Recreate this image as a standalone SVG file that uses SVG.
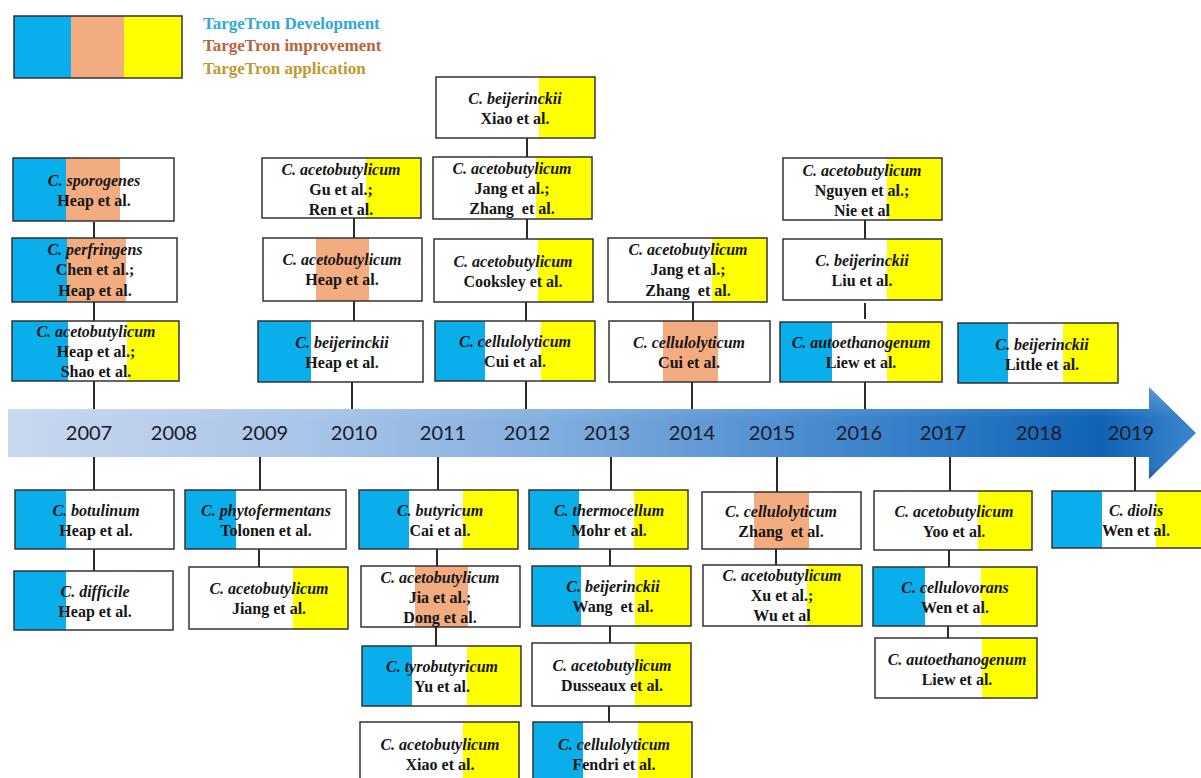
<svg xmlns="http://www.w3.org/2000/svg" width="1201" height="778" viewBox="0 0 1201 778">
<style>
.box{fill:none;stroke:#333;stroke-width:1.5}
.bg{fill:#fff}
.b{fill:#0AAEEB}
.p{fill:#F3AB80}
.y{fill:#FFFF00}
.sp{font-family:Liberation Serif,Tinos,DejaVu Serif,serif;font-size:16px;font-weight:bold;font-style:italic;fill:#151515;text-anchor:middle}
.au{font-family:Liberation Serif,Tinos,DejaVu Serif,serif;font-size:16px;font-weight:bold;fill:#151515;text-anchor:middle}
.yr{font-family:Lato,Open Sans,sans-serif;font-size:20px;fill:#1a1a28;text-anchor:middle}
.lg{font-family:Liberation Serif,Tinos,DejaVu Serif,serif;font-size:17px;font-weight:bold}
#connectors line{stroke:#2a2a2a;stroke-width:2}
</style>
<defs>
<linearGradient id="band" gradientUnits="userSpaceOnUse" x1="8" y1="0" x2="1196" y2="0">
<stop offset="0" stop-color="#C8D8EF"/>
<stop offset="0.25" stop-color="#A9C5E8"/>
<stop offset="0.45" stop-color="#84AFDF"/>
<stop offset="0.62" stop-color="#5894D3"/>
<stop offset="0.8" stop-color="#2A78C5"/>
<stop offset="0.92" stop-color="#0F62B5"/>
<stop offset="1" stop-color="#3D86CC"/>
</linearGradient>
<linearGradient id="shade" x1="0" y1="0" x2="0" y2="1">
<stop offset="0" stop-color="#fff" stop-opacity="0.25"/>
<stop offset="0.35" stop-color="#fff" stop-opacity="0"/>
<stop offset="0.85" stop-color="#000" stop-opacity="0"/>
<stop offset="1" stop-color="#000" stop-opacity="0.22"/>
</linearGradient>
</defs>
<rect width="1201" height="778" fill="#fff"/>

<g id="legend">
<rect x="14" y="16" width="57" height="62" class="b"/>
<rect x="71" y="16" width="53" height="62" class="p"/>
<rect x="124" y="16" width="58" height="62" class="y"/>
<rect x="14" y="16" width="168" height="62" class="box"/>
<text x="203" y="29" class="lg" fill="#2FA8DA">TargeTron Development</text>
<text x="203" y="51" class="lg" fill="#B9643A">TargeTron improvement</text>
<text x="203" y="74" class="lg" fill="#BE9A30">TargeTron application</text>
</g>

<g id="timeline">
<path d="M8,409 L1149,409 L1149,387 L1196,433 L1149,479 L1149,457 L8,457 Z" fill="url(#band)"/>
<path d="M8,409 L1149,409 L1149,387 L1196,433 L1149,479 L1149,457 L8,457 Z" fill="url(#shade)"/>
<text x="89" y="440" class="yr">2007</text>
<text x="174" y="440" class="yr">2008</text>
<text x="265" y="440" class="yr">2009</text>
<text x="354" y="440" class="yr">2010</text>
<text x="443" y="440" class="yr">2011</text>
<text x="527" y="440" class="yr">2012</text>
<text x="607" y="440" class="yr">2013</text>
<text x="692" y="440" class="yr">2014</text>
<text x="772" y="440" class="yr">2015</text>
<text x="859" y="440" class="yr">2016</text>
<text x="943" y="440" class="yr">2017</text>
<text x="1039" y="440" class="yr">2018</text>
<text x="1131" y="440" class="yr">2019</text>
</g>

<g id="connectors">
<line x1="94" y1="222" x2="94" y2="238"/>
<line x1="94" y1="302" x2="94" y2="321"/>
<line x1="94" y1="381" x2="94" y2="409"/>
<line x1="354" y1="218" x2="354" y2="238"/>
<line x1="354" y1="301" x2="354" y2="321"/>
<line x1="352" y1="382" x2="352" y2="409"/>
<line x1="527" y1="138" x2="527" y2="157"/>
<line x1="527" y1="219" x2="527" y2="239"/>
<line x1="526" y1="302" x2="526" y2="321"/>
<line x1="526" y1="381" x2="526" y2="409"/>
<line x1="693" y1="302" x2="693" y2="321"/>
<line x1="692" y1="382" x2="692" y2="409"/>
<line x1="865" y1="220" x2="865" y2="239"/>
<line x1="865" y1="303" x2="865" y2="319"/>
<line x1="865" y1="382" x2="865" y2="409"/>
<line x1="94" y1="457" x2="94" y2="490"/>
<line x1="94" y1="549" x2="94" y2="571"/>
<line x1="260" y1="457" x2="260" y2="490"/>
<line x1="259" y1="549" x2="259" y2="567"/>
<line x1="438" y1="457" x2="438" y2="490"/>
<line x1="437" y1="549" x2="437" y2="566"/>
<line x1="436" y1="627" x2="436" y2="646"/>
<line x1="611" y1="457" x2="611" y2="490"/>
<line x1="610" y1="549" x2="610" y2="566"/>
<line x1="610" y1="626" x2="610" y2="643"/>
<line x1="609" y1="706" x2="609" y2="722"/>
<line x1="777" y1="457" x2="777" y2="492"/>
<line x1="776" y1="549" x2="776" y2="565"/>
<line x1="950" y1="457" x2="950" y2="491"/>
<line x1="949" y1="550" x2="949" y2="567"/>
<line x1="948" y1="626" x2="948" y2="638"/>
<line x1="1135" y1="457" x2="1135" y2="491"/>
</g>

<!-- top nodes -->
<g id="n-sporogenes">
<rect x="13" y="158" width="161" height="63" class="bg"/>
<rect x="13" y="158" width="53" height="63" class="b"/>
<rect x="66" y="158" width="54" height="63" class="p"/>
<rect x="13" y="158" width="161" height="63" class="box"/>
<text x="94" y="186" class="sp">C. sporogenes</text>
<text x="94" y="206" class="au">Heap et al.</text>
</g>
<g id="n-perfringens">
<rect x="12" y="238" width="165" height="64" class="bg"/>
<rect x="12" y="238" width="55" height="64" class="b"/>
<rect x="67" y="238" width="59" height="64" class="p"/>
<rect x="12" y="238" width="165" height="64" class="box"/>
<text x="95" y="255" class="sp">C. perfringens</text>
<text x="95" y="275" class="au">Chen et al.;</text>
<text x="95" y="296" class="au">Heap et al.</text>
</g>
<g id="n-aceto-heap-shao">
<rect x="12" y="321" width="167" height="60" class="bg"/>
<rect x="12" y="321" width="56" height="60" class="b"/>
<rect x="127" y="321" width="52" height="60" class="y"/>
<rect x="12" y="321" width="167" height="60" class="box"/>
<text x="96" y="337" class="sp">C. acetobutylicum</text>
<text x="96" y="357" class="au">Heap et al.;</text>
<text x="96" y="377" class="au">Shao et al.</text>
</g>
<g id="n-aceto-gu-ren">
<rect x="262" y="158" width="159" height="60" class="bg"/>
<rect x="366" y="158" width="55" height="60" class="y"/>
<rect x="262" y="158" width="159" height="60" class="box"/>
<text x="341" y="175" class="sp">C. acetobutylicum</text>
<text x="341" y="195" class="au">Gu et al.;</text>
<text x="341" y="215" class="au">Ren et al.</text>
</g>
<g id="n-aceto-heap">
<rect x="263" y="238" width="159" height="63" class="bg"/>
<rect x="316" y="238" width="53" height="63" class="p"/>
<rect x="263" y="238" width="159" height="63" class="box"/>
<text x="342" y="265" class="sp">C. acetobutylicum</text>
<text x="342" y="285" class="au">Heap et al.</text>
</g>
<g id="n-beij-heap">
<rect x="258" y="321" width="165" height="61" class="bg"/>
<rect x="258" y="321" width="53" height="61" class="b"/>
<rect x="258" y="321" width="165" height="61" class="box"/>
<text x="342" y="348" class="sp">C. beijerinckii</text>
<text x="342" y="368" class="au">Heap et al.</text>
</g>
<g id="n-beij-xiao">
<rect x="436" y="77" width="159" height="61" class="bg"/>
<rect x="539" y="77" width="56" height="61" class="y"/>
<rect x="436" y="77" width="159" height="61" class="box"/>
<text x="515" y="104" class="sp">C. beijerinckii</text>
<text x="515" y="124" class="au">Xiao et al.</text>
</g>
<g id="n-aceto-jang-zhang-2012">
<rect x="433" y="157" width="159" height="62" class="bg"/>
<rect x="536" y="157" width="56" height="62" class="y"/>
<rect x="433" y="157" width="159" height="62" class="box"/>
<text x="512" y="174" class="sp">C. acetobutylicum</text>
<text x="512" y="194" class="au">Jang et al.;</text>
<text x="512" y="214" class="au" xml:space="preserve">Zhang  et al.</text>
</g>
<g id="n-aceto-cooksley">
<rect x="434" y="239" width="159" height="63" class="bg"/>
<rect x="538" y="239" width="55" height="63" class="y"/>
<rect x="434" y="239" width="159" height="63" class="box"/>
<text x="513" y="267" class="sp">C. acetobutylicum</text>
<text x="513" y="287" class="au">Cooksley et al.</text>
</g>
<g id="n-cellulo-cui-2012">
<rect x="435" y="321" width="160" height="60" class="bg"/>
<rect x="435" y="321" width="50" height="60" class="b"/>
<rect x="541" y="321" width="54" height="60" class="y"/>
<rect x="435" y="321" width="160" height="60" class="box"/>
<text x="515" y="347" class="sp">C. cellulolyticum</text>
<text x="515" y="367" class="au">Cui et al.</text>
</g>
<g id="n-aceto-jang-zhang-2014">
<rect x="608" y="238" width="159" height="64" class="bg"/>
<rect x="712" y="238" width="55" height="64" class="y"/>
<rect x="608" y="238" width="159" height="64" class="box"/>
<text x="688" y="255" class="sp">C. acetobutylicum</text>
<text x="688" y="275" class="au">Jang et al.;</text>
<text x="688" y="296" class="au" xml:space="preserve">Zhang  et al.</text>
</g>
<g id="n-cellulo-cui-2014">
<rect x="609" y="321" width="161" height="61" class="bg"/>
<rect x="663" y="321" width="55" height="61" class="p"/>
<rect x="609" y="321" width="161" height="61" class="box"/>
<text x="689" y="348" class="sp">C. cellulolyticum</text>
<text x="689" y="368" class="au">Cui et al.</text>
</g>
<g id="n-aceto-nguyen-nie">
<rect x="783" y="158" width="159" height="62" class="bg"/>
<rect x="887" y="158" width="55" height="62" class="y"/>
<rect x="783" y="158" width="159" height="62" class="box"/>
<text x="862" y="176" class="sp">C. acetobutylicum</text>
<text x="862" y="196" class="au">Nguyen et al.;</text>
<text x="862" y="216" class="au">Nie et al</text>
</g>
<g id="n-beij-liu">
<rect x="783" y="239" width="159" height="61" class="bg"/>
<rect x="887" y="239" width="55" height="61" class="y"/>
<rect x="783" y="239" width="159" height="61" class="box"/>
<text x="862" y="266" class="sp">C. beijerinckii</text>
<text x="862" y="286" class="au">Liu et al.</text>
</g>
<g id="n-autoeth-liew-2016">
<rect x="780" y="322" width="162" height="60" class="bg"/>
<rect x="780" y="322" width="52" height="60" class="b"/>
<rect x="887" y="322" width="55" height="60" class="y"/>
<rect x="780" y="322" width="162" height="60" class="box"/>
<text x="861" y="348" class="sp">C. autoethanogenum</text>
<text x="861" y="368" class="au">Liew et al.</text>
</g>
<g id="n-beij-little">
<rect x="958" y="323" width="160" height="60" class="bg"/>
<rect x="958" y="323" width="50" height="60" class="b"/>
<rect x="1063" y="323" width="55" height="60" class="y"/>
<rect x="958" y="323" width="160" height="60" class="box"/>
<text x="1042" y="350" class="sp">C. beijerinckii</text>
<text x="1042" y="370" class="au">Little et al.</text>
</g>

<!-- bottom nodes -->
<g id="n-botulinum">
<rect x="15" y="490" width="159" height="59" class="bg"/>
<rect x="15" y="490" width="51" height="59" class="b"/>
<rect x="15" y="490" width="159" height="59" class="box"/>
<text x="96" y="516" class="sp">C. botulinum</text>
<text x="96" y="536" class="au">Heap et al.</text>
</g>
<g id="n-difficile">
<rect x="14" y="571" width="159" height="59" class="bg"/>
<rect x="14" y="571" width="52" height="59" class="b"/>
<rect x="14" y="571" width="159" height="59" class="box"/>
<text x="95" y="597" class="sp">C. difficile</text>
<text x="95" y="617" class="au">Heap et al.</text>
</g>
<g id="n-phyto">
<rect x="185" y="490" width="161" height="59" class="bg"/>
<rect x="185" y="490" width="51" height="59" class="b"/>
<rect x="185" y="490" width="161" height="59" class="box"/>
<text x="266" y="516" class="sp">C. phytofermentans</text>
<text x="266" y="536" class="au">Tolonen et al.</text>
</g>
<g id="n-aceto-jiang">
<rect x="189" y="567" width="159" height="62" class="bg"/>
<rect x="293" y="567" width="55" height="62" class="y"/>
<rect x="189" y="567" width="159" height="62" class="box"/>
<text x="269" y="594" class="sp">C. acetobutylicum</text>
<text x="269" y="614" class="au">Jiang et al.</text>
</g>
<g id="n-butyricum">
<rect x="359" y="490" width="159" height="59" class="bg"/>
<rect x="359" y="490" width="50" height="59" class="b"/>
<rect x="463" y="490" width="55" height="59" class="y"/>
<rect x="359" y="490" width="159" height="59" class="box"/>
<text x="440" y="516" class="sp">C. butyricum</text>
<text x="440" y="536" class="au">Cai et al.</text>
</g>
<g id="n-aceto-jia-dong">
<rect x="361" y="566" width="159" height="61" class="bg"/>
<rect x="415" y="566" width="53" height="61" class="p"/>
<rect x="361" y="566" width="159" height="61" class="box"/>
<text x="440" y="583" class="sp">C. acetobutylicum</text>
<text x="440" y="603" class="au">Jia et al.;</text>
<text x="440" y="623" class="au">Dong et al.</text>
</g>
<g id="n-tyrobutyricum">
<rect x="362" y="646" width="159" height="60" class="bg"/>
<rect x="362" y="646" width="50" height="60" class="b"/>
<rect x="467" y="646" width="54" height="60" class="y"/>
<rect x="362" y="646" width="159" height="60" class="box"/>
<text x="442" y="672" class="sp">C. tyrobutyricum</text>
<text x="442" y="692" class="au">Yu et al.</text>
</g>
<g id="n-aceto-xiao">
<rect x="360" y="722" width="159" height="62" class="bg"/>
<rect x="463" y="722" width="56" height="62" class="y"/>
<rect x="360" y="722" width="159" height="62" class="box"/>
<text x="440" y="750" class="sp">C. acetobutylicum</text>
<text x="440" y="770" class="au">Xiao et al.</text>
</g>
<g id="n-thermocellum">
<rect x="529" y="490" width="159" height="59" class="bg"/>
<rect x="529" y="490" width="50" height="59" class="b"/>
<rect x="634" y="490" width="54" height="59" class="y"/>
<rect x="529" y="490" width="159" height="59" class="box"/>
<text x="609" y="516" class="sp">C. thermocellum</text>
<text x="609" y="536" class="au">Mohr et al.</text>
</g>
<g id="n-beij-wang">
<rect x="532" y="566" width="159" height="60" class="bg"/>
<rect x="532" y="566" width="49" height="60" class="b"/>
<rect x="635" y="566" width="56" height="60" class="y"/>
<rect x="532" y="566" width="159" height="60" class="box"/>
<text x="613" y="592" class="sp">C. beijerinckii</text>
<text x="613" y="612" class="au" xml:space="preserve">Wang  et al.</text>
</g>
<g id="n-aceto-dusseaux">
<rect x="532" y="643" width="159" height="63" class="bg"/>
<rect x="635" y="643" width="56" height="63" class="y"/>
<rect x="532" y="643" width="159" height="63" class="box"/>
<text x="612" y="671" class="sp">C. acetobutylicum</text>
<text x="612" y="691" class="au">Dusseaux et al.</text>
</g>
<g id="n-cellulo-fendri">
<rect x="533" y="722" width="159" height="62" class="bg"/>
<rect x="533" y="722" width="50" height="62" class="b"/>
<rect x="638" y="722" width="54" height="62" class="y"/>
<rect x="533" y="722" width="159" height="62" class="box"/>
<text x="614" y="750" class="sp">C. cellulolyticum</text>
<text x="614" y="770" class="au">Fendri et al.</text>
</g>
<g id="n-cellulo-zhang">
<rect x="702" y="492" width="159" height="57" class="bg"/>
<rect x="754" y="492" width="55" height="57" class="p"/>
<rect x="702" y="492" width="159" height="57" class="box"/>
<text x="781" y="517" class="sp">C. cellulolyticum</text>
<text x="781" y="537" class="au" xml:space="preserve">Zhang  et al.</text>
</g>
<g id="n-aceto-xu-wu">
<rect x="703" y="565" width="159" height="61" class="bg"/>
<rect x="807" y="565" width="55" height="61" class="y"/>
<rect x="703" y="565" width="159" height="61" class="box"/>
<text x="782" y="581" class="sp">C. acetobutylicum</text>
<text x="782" y="601" class="au">Xu et al.;</text>
<text x="782" y="621" class="au">Wu et al</text>
</g>
<g id="n-aceto-yoo">
<rect x="874" y="491" width="158" height="59" class="bg"/>
<rect x="978" y="491" width="54" height="59" class="y"/>
<rect x="874" y="491" width="158" height="59" class="box"/>
<text x="954" y="517" class="sp">C. acetobutylicum</text>
<text x="954" y="537" class="au">Yoo et al.</text>
</g>
<g id="n-cellulovorans">
<rect x="873" y="567" width="164" height="59" class="bg"/>
<rect x="873" y="567" width="52" height="59" class="b"/>
<rect x="981" y="567" width="56" height="59" class="y"/>
<rect x="873" y="567" width="164" height="59" class="box"/>
<text x="955" y="593" class="sp">C. cellulovorans</text>
<text x="955" y="613" class="au">Wen et al.</text>
</g>
<g id="n-autoeth-liew-2017">
<rect x="875" y="638" width="162" height="60" class="bg"/>
<rect x="982" y="638" width="55" height="60" class="y"/>
<rect x="875" y="638" width="162" height="60" class="box"/>
<text x="957" y="665" class="sp">C. autoethanogenum</text>
<text x="957" y="685" class="au">Liew et al.</text>
</g>
<g id="n-diolis">
<rect x="1052" y="491" width="160" height="57" class="bg"/>
<rect x="1052" y="491" width="50" height="57" class="b"/>
<rect x="1156" y="491" width="56" height="57" class="y"/>
<rect x="1052" y="491" width="160" height="57" class="box"/>
<text x="1136" y="516" class="sp">C. diolis</text>
<text x="1136" y="536" class="au">Wen et al.</text>
</g>
</svg>
